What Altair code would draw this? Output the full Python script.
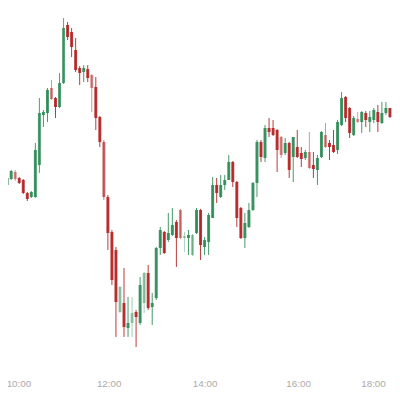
import altair as alt
import pandas as pd

# OHLC values (one candle per period)
open_ = [80.5, 81.1, 81.8, 81.2, 81.0, 79.7, 79.3, 79.3, 82.5, 87.5,
         87.7, 90.2, 89.2, 88.3, 90.7, 96.5, 95.8, 94.0, 92.2, 91.8,
         92.1, 91.5, 90.3, 87.3, 84.8, 79.3, 75.8, 74.0, 67.8, 68.7,
         66.2, 66.7, 67.8, 66.7, 68.7, 71.7, 68.3, 69.2, 74.2, 75.8,
         75.0, 75.5, 76.8, 78.0, 75.2, 75.2, 73.5, 75.7, 78.0, 74.3,
         74.8, 77.2, 80.5, 79.3, 80.5, 81.0, 82.8, 80.8, 78.2, 75.2,
         76.3, 78.0, 80.7, 84.8, 83.2, 86.2, 86.2, 86.0, 85.3, 83.7,
         84.7, 83.3, 84.3, 83.7, 83.2, 83.8, 82.5, 82.0, 83.3, 85.5,
         84.7, 84.5, 84.0, 86.5, 89.3, 88.2, 85.5, 87.1, 86.8, 87.7,
         86.8, 87.0, 87.8, 86.7, 87.7, 88.2, 88.0]
high = [81.3, 82.0, 82.0, 81.3, 81.1, 79.8, 79.9, 84.7, 89.2, 88.0,
        90.2, 91.0, 89.3, 91.7, 97.2, 96.8, 96.2, 95.2, 92.4, 92.5,
        92.5, 91.6, 91.3, 87.4, 85.0, 79.5, 76.0, 74.3, 70.4, 72.2,
        69.3, 69.3, 68.0, 71.3, 71.8, 72.5, 69.7, 74.3, 76.3, 75.9,
        77.7, 78.2, 77.0, 78.1, 75.8, 76.0, 75.6, 78.2, 78.1, 75.3,
        77.7, 81.3, 81.2, 81.5, 81.5, 83.5, 82.9, 80.9, 78.3, 77.7,
        78.7, 80.8, 85.0, 85.0, 86.5, 87.2, 87.0, 86.1, 85.4, 85.2,
        84.8, 85.3, 86.0, 84.3, 84.0, 85.8, 83.8, 83.5, 85.9, 86.7,
        85.0, 86.0, 87.0, 89.8, 89.4, 88.3, 87.4, 87.8, 87.9, 87.9,
        87.9, 88.2, 88.5, 88.8, 88.8, 88.2, 89.5]
low = [80.4, 81.0, 80.9, 80.6, 79.6, 78.9, 79.2, 79.2, 81.7, 86.3,
       86.8, 89.0, 87.2, 88.2, 90.6, 95.0, 93.3, 91.8, 90.5, 90.8,
       90.8, 87.8, 86.0, 84.3, 79.0, 74.0, 70.5, 65.3, 67.7, 65.3,
       65.3, 65.3, 64.3, 66.5, 67.7, 68.0, 66.5, 69.0, 73.5, 73.6,
       74.8, 75.4, 72.3, 75.1, 73.8, 73.5, 73.4, 75.6, 73.0, 73.5,
       73.5, 77.2, 78.7, 79.2, 80.0, 81.0, 80.3, 76.3, 75.1, 74.2,
       76.2, 77.9, 79.3, 82.8, 82.8, 85.3, 85.4, 81.8, 83.2, 83.5,
       81.2, 80.8, 83.2, 82.3, 83.0, 82.1, 81.2, 80.5, 83.2, 84.2,
       83.0, 83.7, 83.6, 86.4, 86.8, 85.2, 85.4, 86.7, 85.7, 86.3,
       85.8, 86.7, 85.8, 86.6, 87.5, 87.2, 87.2]
close = [81.2, 81.9, 81.1, 80.7, 79.7, 79.1, 79.8, 84.0, 87.7, 87.8,
         90.0, 89.1, 88.3, 90.7, 96.2, 95.3, 94.3, 92.0, 91.7, 92.2,
         91.2, 90.2, 87.2, 84.8, 79.3, 75.7, 71.0, 68.8, 70.3, 66.3,
         66.7, 67.7, 67.3, 70.5, 71.7, 68.2, 68.7, 74.2, 76.0, 73.7,
         75.7, 76.5, 75.2, 75.2, 75.4, 75.5, 75.5, 78.0, 74.5, 75.0,
         77.5, 80.5, 79.7, 80.5, 81.0, 82.8, 80.8, 77.2, 75.2, 76.7,
         78.0, 80.7, 84.8, 83.3, 86.2, 85.8, 85.5, 84.0, 83.5, 84.7,
         82.0, 85.3, 83.3, 83.1, 83.8, 82.2, 82.1, 83.2, 85.8, 84.3,
         84.3, 83.8, 86.8, 89.2, 87.2, 85.7, 87.2, 86.8, 87.8, 87.0,
         87.3, 88.0, 86.8, 87.7, 88.2, 87.3, 89.2]
# per-candle shade (opacity) seen in the reference
shade = [0.9, 0.9, 0.5, 0.9, 0.9, 0.9, 0.9, 0.9, 0.85, 0.9,
         0.9, 0.5, 0.9, 0.85, 0.8, 0.9, 0.9, 0.9, 0.9, 0.9,
         0.9, 0.5, 0.9, 0.9, 0.65, 0.9, 0.9, 0.9, 0.45, 0.9,
         0.9, 0.45, 0.9, 0.9, 0.45, 0.9, 0.9, 0.9, 0.9, 0.9,
         0.9, 0.9, 0.9, 0.5, 0.4, 0.9, 0.45, 0.9, 0.9, 0.9,
         0.9, 0.9, 0.9, 0.9, 0.9, 0.9, 0.9, 0.9, 0.9, 0.9,
         0.9, 0.9, 0.9, 0.9, 0.9, 0.9, 0.9, 0.9, 0.5, 0.9,
         0.9, 0.9, 0.9, 0.9, 0.9, 0.5, 0.9, 0.9, 0.9, 0.5,
         0.9, 0.9, 0.9, 0.9, 0.9, 0.9, 0.9, 0.45, 0.9, 0.9,
         0.9, 0.9, 0.9, 0.9, 0.9, 0.9, 0.9]

# axis label positions (candle index) and texts
tick_pos = [2.8, 25.2, 49, 72.2, 90.8]
tick_labels = ["10:00", "12:00", "14:00", "16:00", "18:00"]

df = pd.DataFrame({
    "i": list(range(len(open_))),
    "open": open_,
    "high": high,
    "low": low,
    "close": close,
    "shade": shade,
})
df["dir"] = ["up" if c >= o else "down" for o, c in zip(open_, close)]

label_expr = " : ".join(
    f"datum.value == {v} ? '{t}'" for v, t in zip(tick_pos, tick_labels)
) + " : ''"

x = alt.X(
    "i:Q",
    scale=alt.Scale(domain=[1.432, 94.29], nice=False, zero=False),
    axis=alt.Axis(
        values=tick_pos,
        labelExpr=label_expr,
        ticks=False,
        domain=False,
        grid=False,
        labelFlush=False,
        labelPadding=1,
        labelFontSize=10,
        labelColor="#aaaaaa",
        title=None,
    ),
)
yscale = alt.Scale(domain=[61.27, 97.91], nice=False, zero=False)
color = alt.Color(
    "dir:N",
    scale=alt.Scale(domain=["up", "down"], range=["#2e8b57", "#b22222"]),
    legend=None,
)
opacity = alt.Opacity("shade:Q", scale=None, legend=None)

wick = alt.Chart(df).mark_rule(strokeWidth=1, clip=True).encode(
    x=x,
    y=alt.Y("low:Q", scale=yscale, axis=None),
    y2="high:Q",
    color=color,
    opacity=opacity,
)
body = alt.Chart(df).mark_bar(size=3, clip=True).encode(
    x=x,
    y=alt.Y("open:Q", scale=yscale, axis=None),
    y2="close:Q",
    color=color,
    opacity=opacity,
)

chart = (
    alt.layer(wick, body)
    .properties(
        width=390,
        height=372,
        padding={"left": 0, "right": 0, "top": 0, "bottom": 12},
        autosize=alt.AutoSizeParams(type="none"),
        background="white",
    )
    .configure_view(stroke=None)
)

chart.save("out.html", embed_options={"renderer": "svg", "actions": False})
